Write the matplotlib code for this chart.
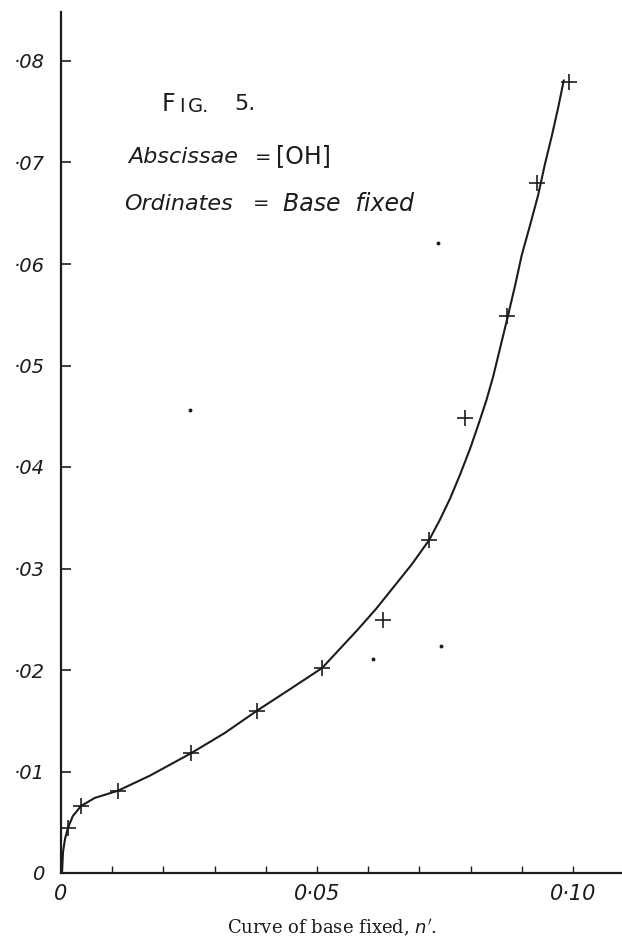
import matplotlib
matplotlib.use("Agg")
import matplotlib.pyplot as plt
from matplotlib.ticker import FixedLocator, MultipleLocator

# plotted observations (the crosses)
obs_x = [0.0014, 0.0039, 0.0111, 0.0254, 0.0383, 0.0510, 0.0629, 0.0719, 0.0789, 0.0871, 0.0930, 0.0992]
obs_y = [0.0044, 0.0066, 0.0081, 0.0118, 0.0160, 0.0202, 0.0249, 0.0328, 0.0448, 0.0549, 0.0680, 0.0779]

# hand drawn curve
curve_x = [0.0002, 0.0004, 0.0008, 0.0014, 0.0023, 0.0039, 0.0066, 0.0111, 0.0174, 0.0254,
           0.0320, 0.0383, 0.0447, 0.0510, 0.0545, 0.0580, 0.0615, 0.0650, 0.0685, 0.0719,
           0.0740, 0.0760, 0.0779, 0.0799, 0.0816, 0.0831, 0.0844, 0.0858, 0.0873, 0.0887,
           0.0900, 0.0916, 0.0932, 0.0945, 0.0959, 0.0971, 0.0982]
curve_y = [0.0000, 0.0021, 0.0034, 0.0045, 0.0056, 0.0066, 0.0074, 0.0081, 0.0096, 0.0118,
           0.0138, 0.0160, 0.0181, 0.0202, 0.0221, 0.0240, 0.0260, 0.0282, 0.0304, 0.0328,
           0.0348, 0.0369, 0.0392, 0.0418, 0.0443, 0.0466, 0.0489, 0.0518, 0.0549, 0.0579,
           0.0609, 0.0638, 0.0668, 0.0698, 0.0727, 0.0754, 0.0781]

# specks on the printed page
speck_x = [0.0252, 0.0736, 0.0742, 0.0609]
speck_y = [0.0456, 0.0621, 0.0224, 0.0211]

y_ticks = [0.0, 0.01, 0.02, 0.03, 0.04, 0.05, 0.06, 0.07, 0.08]
y_labels = ["0", "·01", "·02", "·03", "·04", "·05", "·06", "·07", "·08"]
x_ticks = [0.0, 0.05, 0.10]
x_labels = ["0", "0·05", "0·10"]

ink = "#1c1c1c"

fig = plt.figure(figsize=(6.22, 9.43), dpi=100)
ax = fig.add_axes([61 / 622, 70 / 943, 561 / 622, 861 / 943])

ax.plot(curve_x, curve_y, color=ink, lw=1.5, solid_capstyle="round", solid_joinstyle="round")
ax.plot(obs_x, obs_y, linestyle="none", marker="+", ms=11, mew=1.2, color=ink)
ax.plot(speck_x, speck_y, linestyle="none", marker="o", ms=1.8, color=ink)

ax.set_xlim(0, 561 / 5120)
ax.set_ylim(0, 861 / 10150)

for side in ["top", "right"]:
    ax.spines[side].set_visible(False)
for side in ["left", "bottom"]:
    ax.spines[side].set_linewidth(1.6)
    ax.spines[side].set_color(ink)

ax.yaxis.set_major_locator(FixedLocator(y_ticks))
ax.set_yticklabels(y_labels)
ax.xaxis.set_major_locator(FixedLocator(x_ticks))
ax.set_xticklabels(x_labels)
ax.xaxis.set_minor_locator(MultipleLocator(0.01))

ax.tick_params(axis="y", direction="in", length=7, width=1.2, color=ink, pad=12,
               labelsize=14, labelcolor=ink)
ax.tick_params(axis="x", which="both", direction="in", length=5, width=1.0, color=ink,
               pad=8, labelsize=15, labelcolor=ink)
for lab in ax.get_yticklabels() + ax.get_xticklabels():
    lab.set_fontstyle("italic")


def px(x, y):
    # position on the page, in data units
    return (x - 61) / 5120, (873 - y) / 10150


# lettering written on the figure
ax.text(*px(162, 104), "F", fontsize=17, color=ink, va="center")
ax.text(*px(179, 106), "I", fontsize=14, color=ink, va="center")
ax.text(*px(188, 106), "G.", fontsize=14, color=ink, va="center")
ax.text(*px(234, 104), "5.", fontsize=16, color=ink, va="center")

ax.text(*px(128, 157), "Abscissae", fontsize=16, style="italic", color=ink, va="center")
ax.text(*px(255, 157), "=", fontsize=14, color=ink, va="center")
ax.text(*px(276, 156), "[OH]", fontsize=17, color=ink, va="center")
ax.text(*px(124, 204), "Ordinates", fontsize=16, style="italic", color=ink, va="center")
ax.text(*px(253, 204), "=", fontsize=14, color=ink, va="center")
ax.text(*px(283, 204), "Base  fixed", fontsize=17, style="italic", color=ink, va="center")

fig.text(332 / 622, 1 - 928 / 943, "Curve of base fixed, $n'$.", fontsize=13,
         family="DejaVu Serif", color=ink, ha="center", va="center")

fig.savefig("out.png", dpi=100, facecolor="white")
